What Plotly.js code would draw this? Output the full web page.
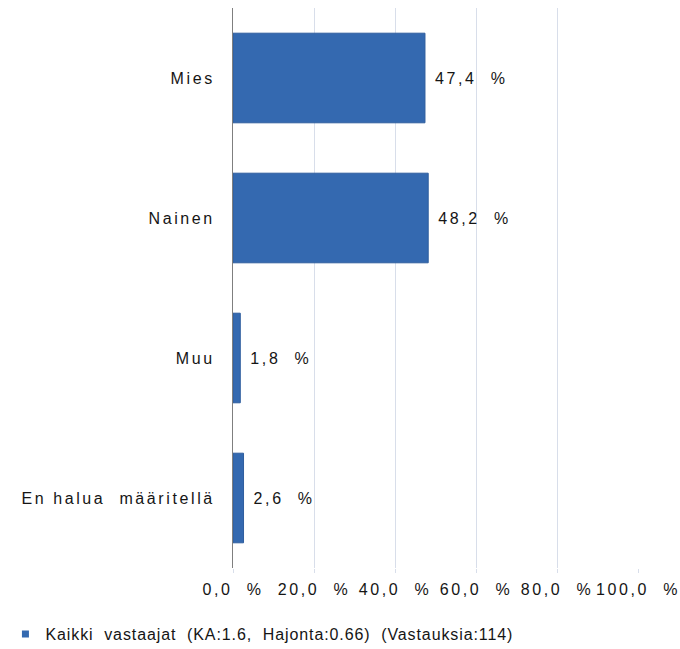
<!DOCTYPE html>
<html><head><meta charset="utf-8">
<script src="https://cdn.plot.ly/plotly-3.0.1.min.js"></script>
<style>
body{margin:0;background:#fff}
text{letter-spacing:2.6px}
text.legendtext{letter-spacing:0.9px}
</style>
</head><body>
<div id="chart" style="width:680px;height:649px"></div>
<script>
const categories = ["Mies", "Nainen", "Muu", "En halua\u00a0 määritellä"];
const values = [47.4, 48.2, 1.8, 2.6];
const tickValues = [0, 20, 40, 60, 80, 100];
const tickLabels = ["0,0\u00a0\u00a0%", "20,0\u00a0\u00a0%", "40,0\u00a0\u00a0%", "60,0\u00a0\u00a0%", "80,0\u00a0\u00a0%", "100,0\u00a0\u00a0%"];
const seriesName = "Kaikki\u00a0 vastaajat\u00a0 (KA:1.6,\u00a0 Hajonta:0.66)\u00a0 (Vastauksia:114)";

const barText = values.map(v => "\u00a0" + v.toFixed(1).replace(".", ",") + "\u00a0\u00a0%");
const font = {family: "Liberation Sans, Arial, sans-serif", size: 16, color: "#151515"};

Plotly.newPlot("chart", [{
  type: "bar",
  orientation: "h",
  y: categories,
  x: values,
  name: seriesName,
  showlegend: false,
  text: barText,
  textposition: "outside",
  cliponaxis: false,
  textfont: font,
  marker: {color: "#3469b0", line: {color: "#2f5e9e", width: 1}},
  hoverinfo: "none"
}, {
  type: "scatter",
  mode: "markers",
  x: [null], y: [null],
  name: seriesName,
  showlegend: true,
  marker: {symbol: "square", size: 7, color: "#3469b0"},
  hoverinfo: "none"
}], {
  width: 680, height: 649,
  margin: {l: 233, r: 42, t: 8, b: 81},
  paper_bgcolor: "#fff", plot_bgcolor: "#fff",
  font: font,
  bargap: 0.36,
  showlegend: true,
  legend: {orientation: "h", xref: "container", yref: "container", x: 0.008, xanchor: "left",
           y: 0.023, yanchor: "middle", font: font, itemwidth: 30},
  xaxis: {range: [0, 100], tickvals: tickValues, ticktext: tickLabels,
          showgrid: true, gridcolor: "#d8deea", gridwidth: 1, zeroline: false,
          ticks: "outside", ticklen: 4, tickcolor: "#d8deea", ticklabelstandoff: 3,
          showline: false, fixedrange: true},
  yaxis: {type: "category", categoryorder: "array", categoryarray: categories,
          autorange: "reversed", showline: true, linecolor: "#7f7f7f", linewidth: 1,
          ticks: "", ticklabelstandoff: 14, showgrid: false, fixedrange: true}
}, {displayModeBar: false, staticPlot: true});
</script>
</body></html>
